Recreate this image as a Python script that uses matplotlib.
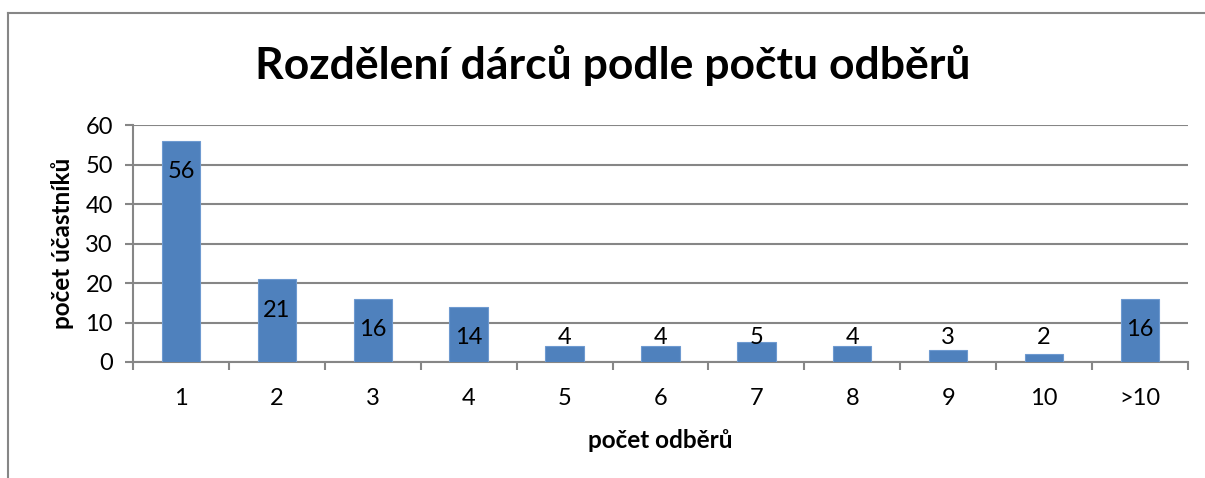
import matplotlib
matplotlib.use("Agg")
import matplotlib.pyplot as plt
from matplotlib.lines import Line2D
import numpy as np

categories = ["1", "2", "3", "4", "5", "6", "7", "8", "9", "10", ">10"]
values = [56, 21, 16, 14, 4, 4, 5, 4, 3, 2, 16]
yticks = [0, 10, 20, 30, 40, 50, 60]

title = "Rozdělení dárců podle počtu odběrů"
xlabel = "počet odběrů"
ylabel = "počet účastníků"

FONT = ["Lato", "DejaVu Sans"]
plt.rcParams["font.family"] = FONT

W, H = 1205, 478
fig = plt.figure(figsize=(W / 100, H / 100), dpi=100)
ax = fig.add_axes([133 / W, 1 - 362 / H, (1188 - 133) / W, (362 - 125) / H])

grey = "#868686"
x = np.arange(len(categories))
ax.bar(x, values, width=0.4, color="#4F81BD", edgecolor="#6E9AD0", linewidth=0.8, zorder=3)
ax.set_xlim(-0.5, len(categories) - 0.5)
ax.set_ylim(0, 60)
ax.set_yticks(yticks)
ax.set_yticklabels([str(t) for t in yticks], fontsize=17)
ax.yaxis.grid(True, color=grey, linewidth=1.5, zorder=0)
ax.set_axisbelow(True)

ax.set_xticks(np.arange(-0.5, len(categories), 1.0))
ax.set_xticklabels([])
ax.set_xticks(x, minor=True)
ax.set_xticklabels(categories, minor=True, fontsize=17)
ax.tick_params(axis="x", which="major", length=5.5, width=1.5, color=grey, direction="out")
ax.tick_params(axis="x", which="minor", length=0, pad=19)
ax.tick_params(axis="y", length=5.5, width=1.5, color=grey, direction="out", pad=9)

for s in ["top", "right"]:
    ax.spines[s].set_visible(False)
for s in ["left", "bottom"]:
    ax.spines[s].set_color(grey)
    ax.spines[s].set_linewidth(1.5)

for xi, v in zip(x, values):
    ly = max(v - 7.85, 6.3)
    ax.text(xi, ly, str(v), ha="center", va="center", fontsize=17, zorder=4)

fig.text(613 / W, 1 - 65 / H, title, ha="center", va="center", fontsize=32, fontweight="bold")
fig.text(660 / W, 1 - 440 / H, xlabel, ha="center", va="center", fontsize=17.5, fontweight="bold")
fig.text(62 / W, 1 - 243 / H, ylabel, ha="center", va="center", rotation=90, fontsize=17.5, fontweight="bold")

fig.add_artist(Line2D([8 / W, 1.0], [1 - 13 / H, 1 - 13 / H], transform=fig.transFigure, color=grey, linewidth=1.5))
fig.add_artist(Line2D([8 / W, 8 / W], [0, 1 - 13 / H], transform=fig.transFigure, color=grey, linewidth=1.5))

fig.savefig("out.png", dpi=100)
